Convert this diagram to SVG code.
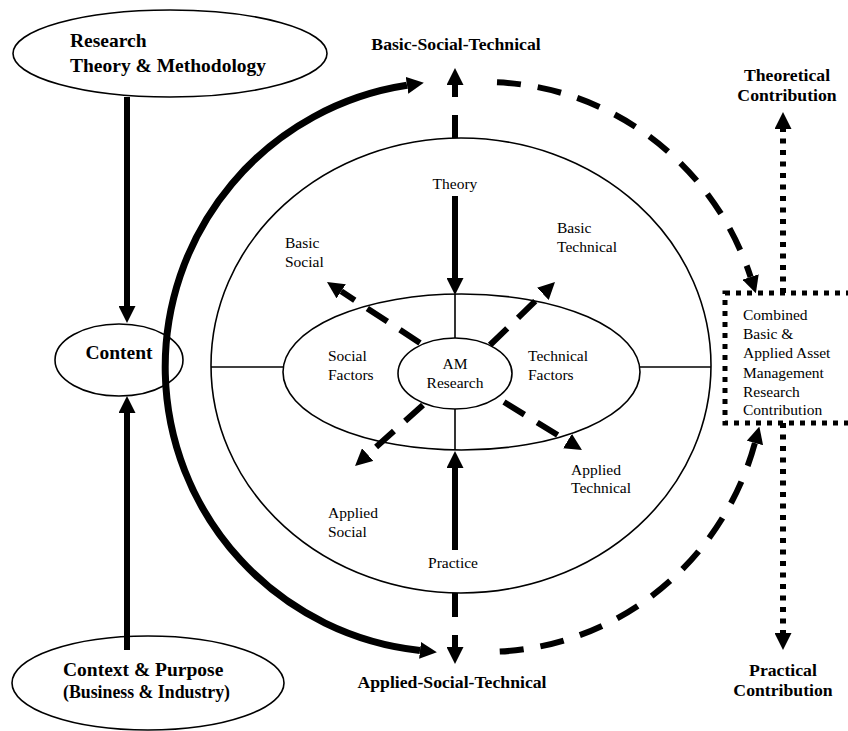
<svg xmlns="http://www.w3.org/2000/svg" width="848" height="731" viewBox="0 0 848 731">
  <style>
    text { font-family: "Liberation Serif", "Times New Roman", serif; fill: #000; }
    .bold { font-weight: bold; }
    .big { font-size: 19.5px; }
    .lbl { font-size: 17.7px; font-weight: bold; }
    .small { font-size: 15.5px; }
    .shape { fill: #fff; stroke: #000; stroke-width: 1.6; }
    .thin { fill: none; stroke: #000; stroke-width: 1.6; }
    .solid { fill: none; stroke: #000; stroke-width: 6; marker-end: url(#head); }
    .dash { fill: none; stroke: #000; stroke-width: 6; stroke-dasharray: 24 15; marker-end: url(#head); }
    .dot { fill: none; stroke: #000; stroke-width: 6; stroke-dasharray: 5 6.5; }
  </style>
  <defs>
    <marker id="head" viewBox="0 0 17 17" refX="0" refY="8.5" markerWidth="17" markerHeight="17" markerUnits="userSpaceOnUse" orient="auto-start-reverse">
      <path d="M0,0 L17,8.5 L0,17 z" fill="#000"/>
    </marker>
  </defs>
  <rect width="848" height="731" fill="#fff"/>

  <!-- outer ring and its inner rings -->
  <g id="outer-ring">
    <ellipse class="shape" cx="461" cy="365.5" rx="250" ry="227.5"/>
  </g>
  <g id="factor-ring">
    <line class="thin" x1="211" y1="367" x2="283" y2="367"/>
    <line class="thin" x1="640" y1="367" x2="711" y2="367"/>
    <ellipse class="shape" cx="461.5" cy="372" rx="178.5" ry="78"/>
    <line class="thin" x1="455" y1="294" x2="455" y2="338"/>
    <line class="thin" x1="455" y1="409" x2="455" y2="450"/>
    <text class="small" x="328" y="361">Social</text>
    <text class="small" x="328" y="380">Factors</text>
    <text class="small" x="528" y="361">Technical</text>
    <text class="small" x="528" y="380">Factors</text>
  </g>
  <g id="am-research">
    <ellipse class="shape" cx="455" cy="373.5" rx="57" ry="35.5"/>
    <text class="small" x="455" y="369" text-anchor="middle">AM</text>
    <text class="small" x="455" y="388" text-anchor="middle">Research</text>
  </g>

  <!-- left-hand nodes -->
  <g id="research-theory">
    <ellipse class="shape" cx="170" cy="53.5" rx="157" ry="43.5"/>
    <text class="big bold" x="70" y="47">Research</text>
    <text class="big bold" x="70" y="72">Theory &amp; Methodology</text>
  </g>
  <g id="content">
    <ellipse class="shape" cx="119" cy="360" rx="64" ry="36"/>
    <text class="big bold" x="119" y="359" text-anchor="middle">Content</text>
  </g>
  <g id="context-purpose">
    <ellipse class="shape" cx="148" cy="683" rx="136" ry="47"/>
    <text class="big bold" x="63" y="676">Context &amp; Purpose</text>
    <text class="bold" x="63" y="698" font-size="17.8">(Business &amp; Industry)</text>
  </g>

  <!-- outcome labels -->
  <g id="basic-social-technical">
    <text class="lbl" x="456" y="50" text-anchor="middle">Basic-Social-Technical</text>
  </g>
  <g id="applied-social-technical">
    <text class="lbl" x="452" y="688" text-anchor="middle">Applied-Social-Technical</text>
  </g>
  <g id="theoretical-contribution">
    <text class="lbl" x="787" y="81" text-anchor="middle">Theoretical</text>
    <text class="lbl" x="787" y="101" text-anchor="middle">Contribution</text>
  </g>
  <g id="practical-contribution">
    <text class="lbl" x="783" y="676" text-anchor="middle">Practical</text>
    <text class="lbl" x="783" y="696" text-anchor="middle">Contribution</text>
  </g>
  <g id="combined-contribution">
    <rect x="725" y="293" width="140" height="130" fill="none" stroke="#000" stroke-width="5" stroke-dasharray="5 6"/>
    <text class="small" x="743" y="320">Combined</text>
    <text class="small" x="743" y="339">Basic &amp;</text>
    <text class="small" x="743" y="358">Applied Asset</text>
    <text class="small" x="743" y="378">Management</text>
    <text class="small" x="743" y="397">Research</text>
    <text class="small" x="743" y="415">Contribution</text>
  </g>

  <!-- quadrant labels -->
  <g id="labels">
    <text class="small" x="455" y="189" text-anchor="middle">Theory</text>
    <text class="small" x="453" y="568" text-anchor="middle">Practice</text>
    <text class="small" x="285" y="248">Basic</text>
    <text class="small" x="285" y="267">Social</text>
    <text class="small" x="557" y="233">Basic</text>
    <text class="small" x="557" y="252">Technical</text>
    <text class="small" x="328" y="518">Applied</text>
    <text class="small" x="328" y="537">Social</text>
    <text class="small" x="571" y="475">Applied</text>
    <text class="small" x="571" y="493">Technical</text>
  </g>

  <g id="connectors">
    <!-- solid feeds -->
    <line class="solid" x1="127" y1="97" x2="127" y2="306"/>
    <line class="solid" x1="127" y1="650" x2="127" y2="413"/>
    <line class="solid" x1="455" y1="196" x2="455" y2="278"/>
    <line class="solid" x1="455" y1="550" x2="455" y2="468"/>
    <!-- thick arc from basic to applied -->
    <path d="M407 85.3 A285 285 0 0 0 420 650.4" fill="none" stroke="#000" stroke-width="7" marker-start="url(#head)" marker-end="url(#head)"/>
    <!-- vertical dashed outcomes -->
    <path d="M455 138 L455 85" fill="none" stroke="#000" stroke-width="6" stroke-dasharray="23 18" marker-end="url(#head)"/>
    <path d="M455 593 L455 647" fill="none" stroke="#000" stroke-width="6" stroke-dasharray="24 18" marker-end="url(#head)"/>
    <!-- diagonal dashed directions -->
    <path class="dash" d="M420 343 L341.2 291.3"/>
    <path class="dash" d="M490 345 L542.8 293.8"/>
    <path class="dash" d="M423 405 L367.7 454.6"/>
    <path class="dash" d="M504 402 L567.5 441.1"/>
    <!-- dashed arcs into the combined box -->
    <path d="M497 82.3 A280 285 0 0 1 750.6 277" fill="none" stroke="#000" stroke-width="6" stroke-dasharray="24 17" marker-end="url(#head)"/>
    <path d="M754.9 443 A280 285 0 0 1 484 652" fill="none" stroke="#000" stroke-width="6" stroke-dasharray="24 17" marker-start="url(#head)"/>
    <!-- dotted contributions -->
    <path class="dot" d="M783 293 L783 129" marker-end="url(#head)"/>
    <path class="dot" d="M783 423 L783 633" marker-end="url(#head)"/>
  </g>
</svg>
